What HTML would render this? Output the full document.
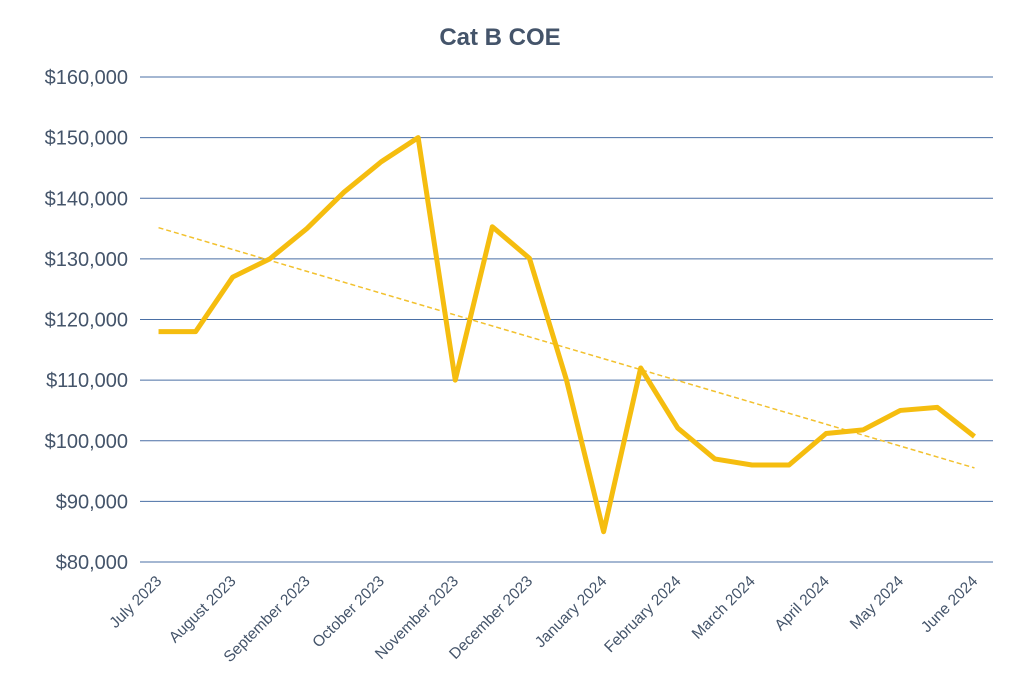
<!DOCTYPE html>
<html><head><meta charset="utf-8"><style>
body{margin:0;background:#fff;}
svg{display:block;font-family:"Liberation Sans",Calibri,sans-serif;}
</style></head><body>
<svg id="chart" width="1024" height="683">
<text x="500" y="45" text-anchor="middle" font-size="24" font-weight="bold" fill="#44546a">Cat B COE</text>
<g id="grid"></g><g id="ylabels"></g><g id="xlabels"></g><g id="series"></g>
</svg>
<script>
const categories=["July 2023","","August 2023","","September 2023","","October 2023","","November 2023","","December 2023","","January 2024","","February 2024","","March 2024","","April 2024","","May 2024","","June 2024"];
const values=[118000,118000,127000,130000,135000,141000,146000,150000,110000,135300,130100,110000,85000,112000,102100,97000,96000,96000,101200,101800,105000,105500,100700];
const yTicks=[80000,90000,100000,110000,120000,130000,140000,150000,160000];
const NS="http://www.w3.org/2000/svg";
const x0=140,x1=993,yTop=77,yBot=562,vMin=80000,vMax=160000;
const band=(x1-x0)/values.length;
const X=i=>x0+band*(i+0.5);
const Y=v=>yBot-(v-vMin)/(vMax-vMin)*(yBot-yTop);
function mk(tag,attrs,parent){const e=document.createElementNS(NS,tag);for(const k in attrs)e.setAttribute(k,attrs[k]);document.getElementById(parent).appendChild(e);return e;}
yTicks.forEach(t=>{
  const l=mk("line",{x1:x0,x2:x1,y1:Y(t),y2:Y(t),stroke:"#4a6fa5","stroke-width":1},"grid");
  
  
  const tx=mk("text",{x:128,y:Y(t)+7,"text-anchor":"end","font-size":20,fill:"#44546a"},"ylabels");
  tx.textContent="$"+t.toLocaleString("en-US");
  
  
});
categories.forEach((c,i)=>{
  if(!c)return;
  const tx=mk("text",{x:X(i)+4,y:582,"text-anchor":"end","font-size":15.5,fill:"#44546a",transform:`rotate(-45 ${X(i)+4} 582)`},"xlabels");
  tx.textContent=c;
  
  
});
const n=values.length;let sx=0,sy=0,sxy=0,sxx=0;
values.forEach((v,i)=>{sx+=i;sy+=v;sxy+=i*v;sxx+=i*i;});
const slope=(n*sxy-sx*sy)/(n*sxx-sx*sx),inter=(sy-slope*sx)/n;
const tl=mk("line",{x1:X(0),y1:Y(inter),x2:X(n-1),y2:Y(inter+slope*(n-1)),stroke:"#f2c12e","stroke-width":1.5,"stroke-dasharray":"5,3"},"series");


const pl=mk("polyline",{points:values.map((v,i)=>X(i)+","+Y(v)).join(" "),fill:"none",stroke:"#f5bd0f","stroke-width":5,"stroke-linejoin":"round"},"series");


</script>
</body></html>
